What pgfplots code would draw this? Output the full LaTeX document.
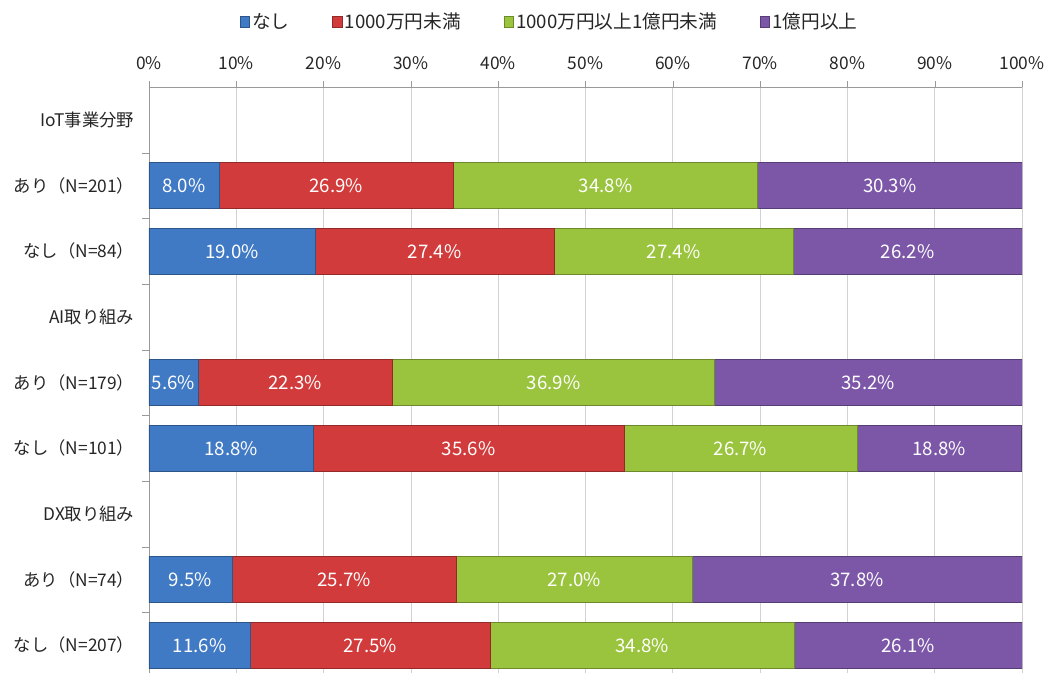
\documentclass[border=0pt]{standalone}
\usepackage{fontspec}
\setmainfont{Noto Sans CJK JP}
\usepackage{pgfplots}
\pgfplotsset{compat=1.18}

\definecolor{cBlue}{HTML}{4079C4}
\definecolor{cRed}{HTML}{D23B3B}
\definecolor{cGreen}{HTML}{9AC43E}
\definecolor{cPurple}{HTML}{7C57A8}
\definecolor{txt}{HTML}{262626}

\newcommand\fs{\fontsize{13pt}{15pt}\selectfont}
\newcommand\fl{\fontsize{14pt}{16pt}\selectfont}

% rows: 0 IoT header, 3 AI header, 6 DX header
\pgfplotstableread{
y   a    b    c    d
1   8.0  26.9 34.8 30.3
2   19.0 27.4 27.4 26.2
4   5.6  22.3 36.9 35.2
5   18.8 35.6 26.7 18.8
7   9.5  25.7 27.0 37.8
8   11.6 27.5 34.8 26.1
}\data

% label each segment with its own value (stacked nodes sit mid-segment)
\pgfplotsset{
  seglabel/.style={
    visualization depends on={\thisrow{#1} \as \vv},
    nodes near coords={\pgfmathprintnumber[fixed,fixed zerofill,precision=1]{\vv}\%},
    every node near coord/.append style={anchor=center, text=white, font=\fl},
  },
}

\begin{document}
\begin{tikzpicture}
\path[use as bounding box] (-111.75pt,0) rectangle (675.75pt,504.75pt);
\begin{axis}[
  at={(0,0)}, anchor=south west,
  scale only axis, width=654.75pt, height=439.5pt,
  xbar stacked, bar width=34.5pt,
  xmin=0, xmax=100,
  ymin=-0.5, ymax=8.42, y dir=reverse,
  axis x line*=top, axis y line*=left,
  axis line style={gray!80},
  xtick={0,10,...,100},
  xticklabel={\pgfmathprintnumber{\tick}\%},
  /pgf/number format/assume math mode=true,
  tick align=outside,
  major tick length=4.5pt, minor tick length=5pt,
  x tick style={gray!80},
  xmajorgrids, grid style={gray!35, line width=0.6pt},
  ytick={0,...,8},
  yticklabels={IoT事業分野, あり（N=201）, なし（N=84）, AI取り組み, あり（N=179）, なし（N=101）, DX取り組み, あり（N=74）, なし（N=207）},
  y tick style={draw=none},
  minor ytick={0.5,1.5,...,7.5},
  minor y tick style={draw=gray!80},
  ticklabel style={font=\fs, text=txt},
  yticklabel style={xshift=-3pt},
  xticklabel style={yshift=5pt},
  legend columns=4,
  legend style={draw=none, font=\fl, text=txt,
    at={(0.4593,1.1109)}, anchor=center,
    /tikz/every even column/.append style={column sep=30pt}},
  legend image code/.code={\draw[#1] (0pt,-4pt) rectangle (7pt,4pt);},
]
\addplot[fill=cBlue, draw=cBlue!70!black, line width=0.4pt, seglabel=a] table[x=a,y=y]{\data};
\addplot[fill=cRed, draw=cRed!70!black, line width=0.4pt, seglabel=b] table[x=b,y=y]{\data};
\addplot[fill=cGreen, draw=cGreen!70!black, line width=0.4pt, seglabel=c] table[x=c,y=y]{\data};
\addplot[fill=cPurple, draw=cPurple!70!black, line width=0.4pt, seglabel=d] table[x=d,y=y]{\data};
\legend{なし, 1000万円未満, 1000万円以上1億円未満, 1億円以上}
\end{axis}
\end{tikzpicture}
\end{document}
